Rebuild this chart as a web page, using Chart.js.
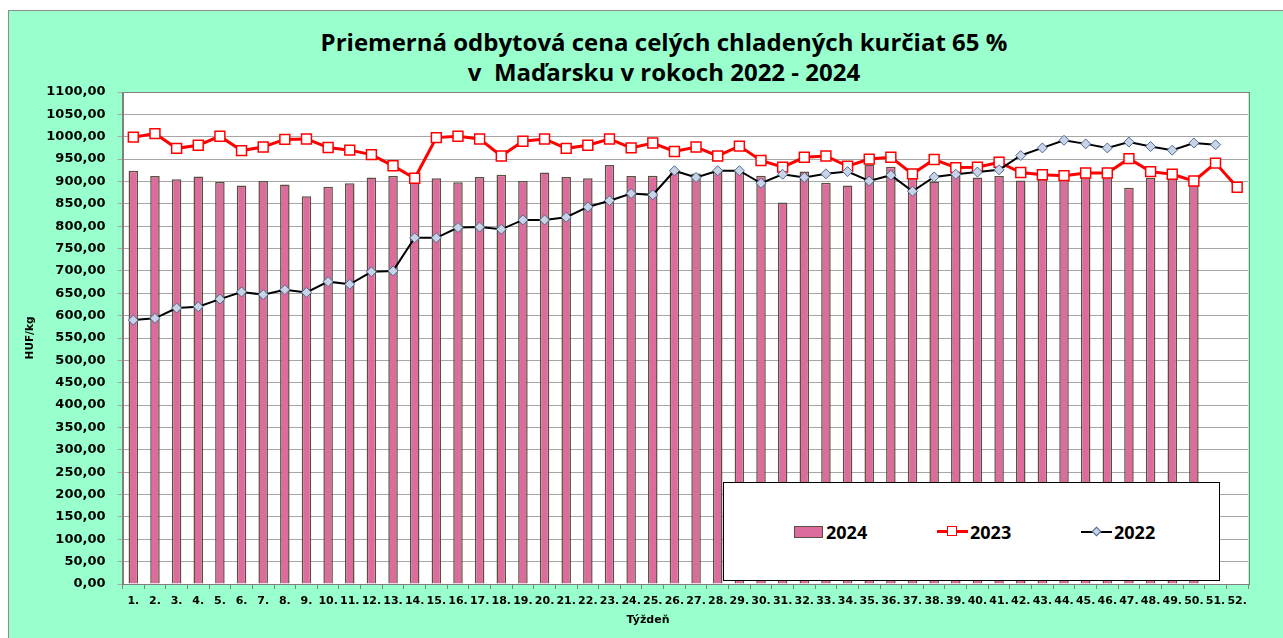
<!DOCTYPE html>
<html><head><meta charset="utf-8">
<script src="https://cdn.jsdelivr.net/npm/chart.js@4.4.1/dist/chart.umd.min.js"></script>
<style>
html,body{margin:0;padding:0;background:#fff;width:1283px;height:638px;overflow:hidden;}
#frame{position:absolute;left:8px;top:10px;width:1290px;height:640px;background:#99FFCC;border-left:1px solid #8c8c8c;border-top:1px solid #8c8c8c;}
#wrap{position:absolute;left:0;top:0;width:1283px;height:638px;}
.t{position:absolute;left:0;width:1328px;text-align:center;font:bold 24px 'Open Sans';line-height:30px;color:#000;white-space:pre;}
#xt{position:absolute;left:598px;width:100px;top:612px;text-align:center;font:bold 11px 'DejaVu Sans';line-height:16px;}
#legend{position:absolute;left:723px;top:482px;width:495px;height:97px;background:#fff;border:1.5px solid #000;}
#legend .lt{position:absolute;top:37px;font:bold 18px 'Open Sans';line-height:24px;color:#000;}
</style>
</head><body>
<div id="frame"></div>
<div class="t" style="top:27px">Priemerná odbytová cena celých chladených kurčiat 65 %</div>
<div class="t" style="top:57px">v  Maďarsku v rokoch 2022 - 2024</div>
<div id="wrap"><canvas id="c" width="1283" height="638"></canvas></div>
<div id="xt">Týždeň</div>
<div id="legend">
  <div style="position:absolute;left:70px;top:43px;width:27px;height:10px;background:#DC6C9B;border:1.5px solid #5a5040;"></div>
  <div class="lt" style="left:102px">2024</div>
  <div style="position:absolute;left:213px;top:47px;width:31px;height:3px;background:#ff0000;"></div>
  <div style="position:absolute;left:223px;top:43px;width:8px;height:8px;background:#fff;border:1.5px solid #ff0000;"></div>
  <div class="lt" style="left:246px">2023</div>
  <div style="position:absolute;left:357px;top:47.5px;width:31px;height:2px;background:#000;"></div>
  <div style="position:absolute;left:369px;top:44.5px;width:5px;height:5px;background:#c9d3e3;border:1px solid #4a6a9a;transform:rotate(45deg);"></div>
  <div class="lt" style="left:390px">2022</div>
</div>
<script>
const weeks = ['1.','2.','3.','4.','5.','6.','7.','8.','9.','10.','11.','12.','13.','14.','15.','16.','17.','18.','19.','20.','21.','22.','23.','24.','25.','26.','27.','28.','29.','30.','31.','32.','33.','34.','35.','36.','37.','38.','39.','40.','41.','42.','43.','44.','45.','46.','47.','48.','49.','50.','51.','52.'];
const values2024 = [924,912,905,911,899,891,901,893,867,888,896,909,912,905,907,898,910,915,901,920,910,907,937,912,913,920,918,925,922,913,853,922,897,891,938,933,910,900,936,909,912,902,905,908,910,910,886,908,910,892];
const values2023 = [999,1007,974,981,1001,969,977,994,995,976,970,960,935,907,998,1001,995,957,990,995,974,981,995,975,986,967,977,957,979,947,932,954,957,934,950,954,917,949,931,932,943,920,915,913,919,919,951,922,916,901,941,887];
const values2022 = [590,594,617,620,637,653,647,658,652,676,670,698,700,774,774,797,798,793,814,814,820,843,857,873,870,924,909,924,924,896,916,909,917,922,901,914,878,910,916,921,926,958,975,992,984,975,988,978,970,986,982];
const yMin = 0, yMax = 1100, yStep = 50;

const plotBg = {
  id: 'plotBg',
  beforeDraw(chart) {
    const {ctx, chartArea: a} = chart;
    ctx.save();
    ctx.fillStyle = '#ffffff';
    ctx.fillRect(a.left, a.top, a.right - a.left, a.bottom - a.top);
    ctx.restore();
  },
  beforeDatasetsDraw(chart) {
    const {ctx, chartArea: a} = chart;
    ctx.save();
    ctx.strokeStyle = '#808080';
    ctx.lineWidth = 1;
    ctx.strokeRect(Math.round(a.left) + 0.5, Math.round(a.top) + 0.5, Math.round(a.right - a.left), Math.round(a.bottom - a.top));
    ctx.restore();
  }
};

new Chart(document.getElementById('c'), {
  data: {
    labels: weeks,
    datasets: [
      {
        type: 'line', label: '2022', data: values2022, order: 0,
        borderColor: '#000000', borderWidth: 2, tension: 0,
        pointStyle: 'rectRot', pointRadius: 5, pointBackgroundColor: '#c9d3e3',
        pointBorderColor: '#4a6a9a', pointBorderWidth: 1
      },
      {
        type: 'line', label: '2023', data: values2023, order: 1,
        borderColor: '#ff0000', borderWidth: 3, tension: 0,
        pointStyle: 'rect', pointRadius: 7, pointBackgroundColor: '#ffffff',
        pointBorderColor: '#ff0000', pointBorderWidth: 1.5
      },
      {
        type: 'bar', label: '2024', data: values2024, order: 2,
        backgroundColor: '#DC6C9B', borderColor: '#5a5040', borderWidth: 1.5,
        barPercentage: 0.44, categoryPercentage: 1
      }
    ]
  },
  options: {
    responsive: false,
    devicePixelRatio: 1,
    animation: false,
    events: [],
    layout: { padding: { left: 20, right: 35, top: 92, bottom: 8 } },
    plugins: { legend: { display: false }, tooltip: { enabled: false }, title: { display: false } },
    scales: {
      x: {
        type: 'category', offset: true,
        grid: { offset: true, drawOnChartArea: false, drawTicks: true, tickLength: 5, color: '#808080' },
        border: { color: '#808080' },
        ticks: { autoSkip: false, maxRotation: 0, minRotation: 0, padding: 6, color: '#000', font: { family: 'DejaVu Sans', size: 11, weight: 'bold' } },
        afterFit(s) { s.height = 46; }
      },
      y: {
        min: yMin, max: yMax,
        ticks: { stepSize: yStep, padding: 12, color: '#000', font: { family: 'DejaVu Sans', size: 13, weight: 'bold' },
          callback: v => v.toFixed(2).replace('.', ',') },
        grid: { color: '#a6a6a6', lineWidth: 1, tickLength: 5, drawTicks: true },
        border: { color: '#808080' },
        title: { display: true, text: 'HUF/kg', color: '#000', padding: { top: 4, bottom: 4 }, font: { family: 'DejaVu Sans', size: 10.5, weight: 'bold' } },
        afterFit(s) { s.width = 102.5; }
      }
    }
  },
  plugins: [plotBg]
});
</script>
</body></html>
